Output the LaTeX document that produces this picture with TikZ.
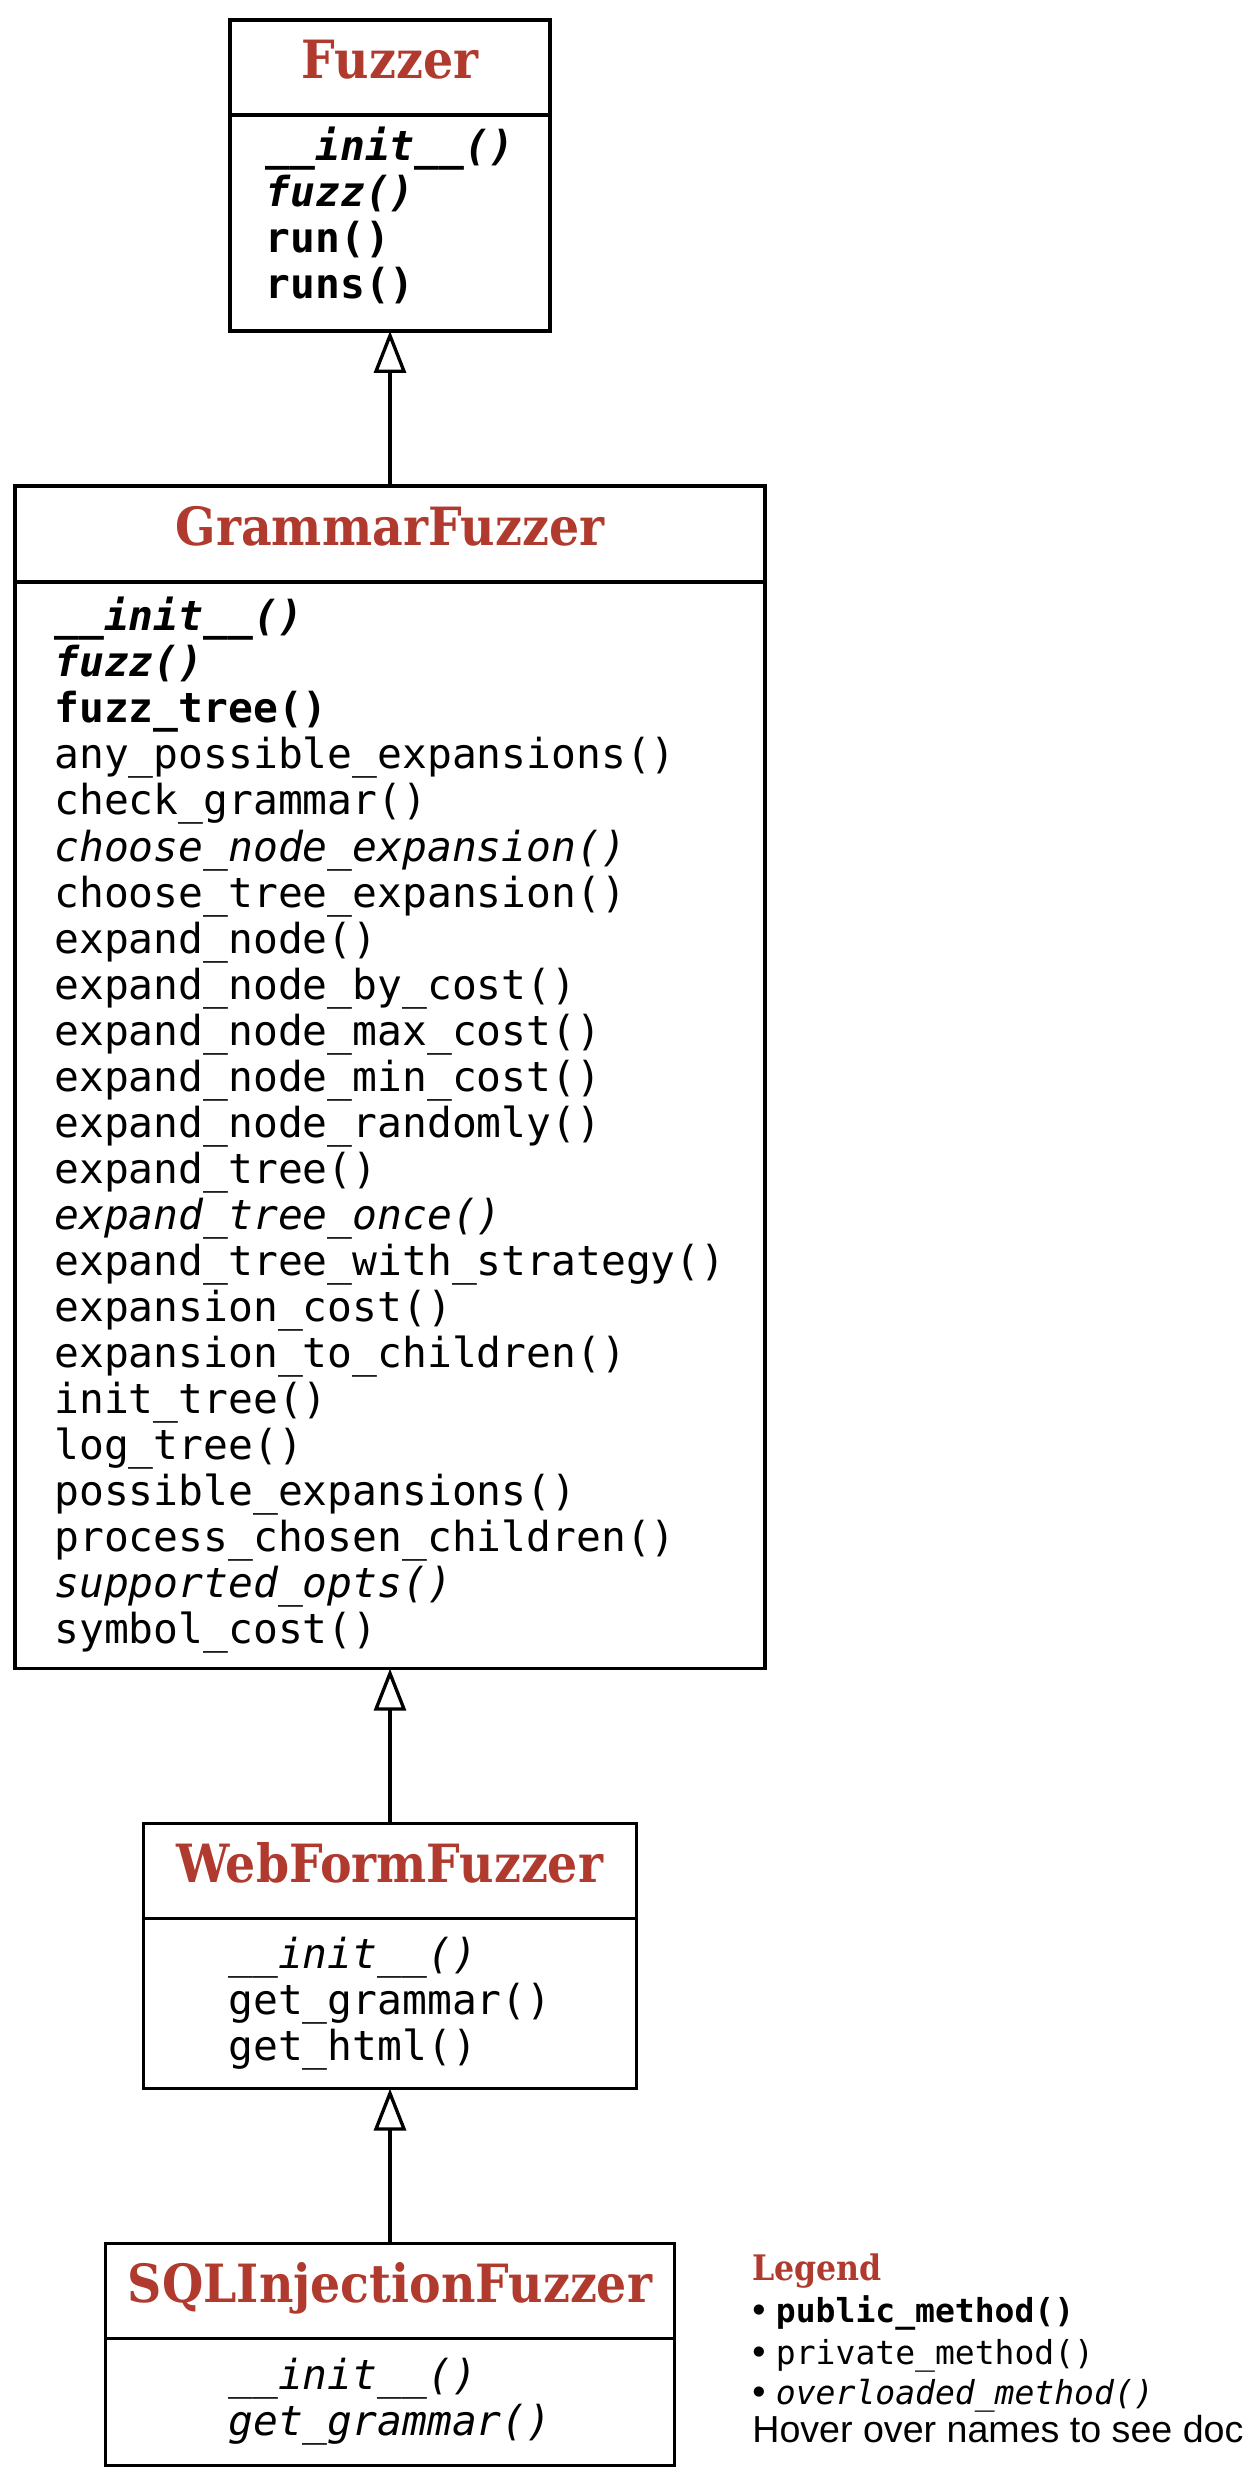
\documentclass[tikz,border=0pt]{standalone}
\usepackage{fontspec}
\usetikzlibrary{positioning,arrows.meta}
\IfFontExistsTF{DejaVu Serif Condensed}{%
  \newfontfamily\titlefont{DejaVu Serif Condensed}\def\titlesize{30}\def\legsize{20}}{%
  \newfontfamily\titlefont{DejaVu Serif}\def\titlesize{27}\def\legsize{18}}
\newfontfamily\methfont{DejaVu Sans Mono}[BoldFont={DejaVu Sans Mono Bold},ItalicFont={DejaVu Sans Mono Oblique},BoldItalicFont={DejaVu Sans Mono Bold Oblique}]
\newfontfamily\legfont{Liberation Sans}
\definecolor{fbred}{HTML}{B03A2E}

\begin{document}
\begin{tikzpicture}[x=0.02cm,y=-0.02cm]
			\tikzstyle{cname}=[rectangle, draw, line width=1.9pt, outer sep=0pt, minimum height=1.9cm, text height=0.76cm, text depth=0.3cm, text=fbred, font=\titlefont\bfseries\fontsize{\titlesize}{30}\selectfont]
			\tikzstyle{cmeth}=[rectangle, draw, line width=1.9pt, outer sep=0pt, align=left, font=\methfont\fontsize{23.5}{26.2}\selectfont]
			\tikzstyle{inherit}=[line width=1.9pt, -{Triangle[open,length=0.84cm,width=0.64cm]}]
			\tikzstyle{legitem}=[anchor=base west, inner sep=0pt, font=\legfont\fontsize{21.4}{24}\selectfont]
			\useasboundingbox (0,0) rectangle (1258,2483);
			\node[cname, minimum width=6.4cm] (fuzzer) at (390,67.5) {Fuzzer};
			\node[cmeth, below=0pt of fuzzer, minimum width=6.4cm, minimum height=4.32cm, text depth=0.4cm] (fuzzerm) {\textbf{\textit{\_\_init\_\_()}}\\ \textbf{\textit{fuzz()}}\\ \textbf{run()}\\ \textbf{runs()}};
			\node[cname, below=3.1cm of fuzzerm, minimum width=15cm, minimum height=1.92cm] (grammar) {GrammarFuzzer};
			\node[cmeth, below=0pt of grammar, minimum width=15cm, minimum height=21.74cm] (grammarm) {\textbf{\textit{\_\_init\_\_()}}\\ \textbf{\textit{fuzz()}}\\ \textbf{fuzz\_tree()}\\
				any\_possible\_expansions()\\ check\_grammar()\\ \textit{choose\_node\_expansion()}\\ choose\_tree\_expansion()\\
				expand\_node()\\ expand\_node\_by\_cost()\\ expand\_node\_max\_cost()\\ expand\_node\_min\_cost()\\ expand\_node\_randomly()\\
				expand\_tree()\\ \textit{expand\_tree\_once()}\\ expand\_tree\_with\_strategy()\\ expansion\_cost()\\ expansion\_to\_children()\\
				init\_tree()\\ log\_tree()\\ possible\_expansions()\\ process\_chosen\_children()\\ \textit{supported\_opts()}\\ symbol\_cost()};
			\node[cname, below=3.1cm of grammarm, minimum width=9.86cm] (webform) {WebFormFuzzer};
			\node[cmeth, below=0pt of webform, minimum width=9.86cm, minimum height=3.4cm] (webformm) {\textit{\_\_init\_\_()}\\ get\_grammar()\\ get\_html()};
			\node[cname, below=3.1cm of webformm, minimum width=11.38cm] (sqlinj) {SQLInjectionFuzzer};
			\node[cmeth, below=0pt of sqlinj, minimum width=11.38cm, minimum height=2.54cm] (sqlinjm) {\textit{\_\_init\_\_()}\\ \textit{get\_grammar()}};
			\draw[inherit] (grammar.north) -- (fuzzerm.south);
			\draw[inherit] (webform.north) -- (grammarm.south);
			\draw[inherit] (sqlinj.north) -- (webformm.south);
			\node[anchor=base west, inner sep=0pt, text=fbred, font=\titlefont\bfseries\fontsize{\legsize}{22}\selectfont] (legend) at (752,2280) {Legend};
			\node[legitem] (legpub) at (752,2322) {• {\methfont\bfseries\fontsize{18.8}{20}\selectfont public\_method()}};
			\node[legitem] (legpriv) at (752,2364) {• {\methfont\fontsize{18.8}{20}\selectfont private\_method()}};
			\node[legitem] (legover) at (752,2404) {• {\methfont\itshape\fontsize{18.8}{20}\selectfont overloaded\_method()}};
			\node[legitem] (leghover) at (752,2442) {Hover over names to see doc};
		\end{tikzpicture}
\end{document}
